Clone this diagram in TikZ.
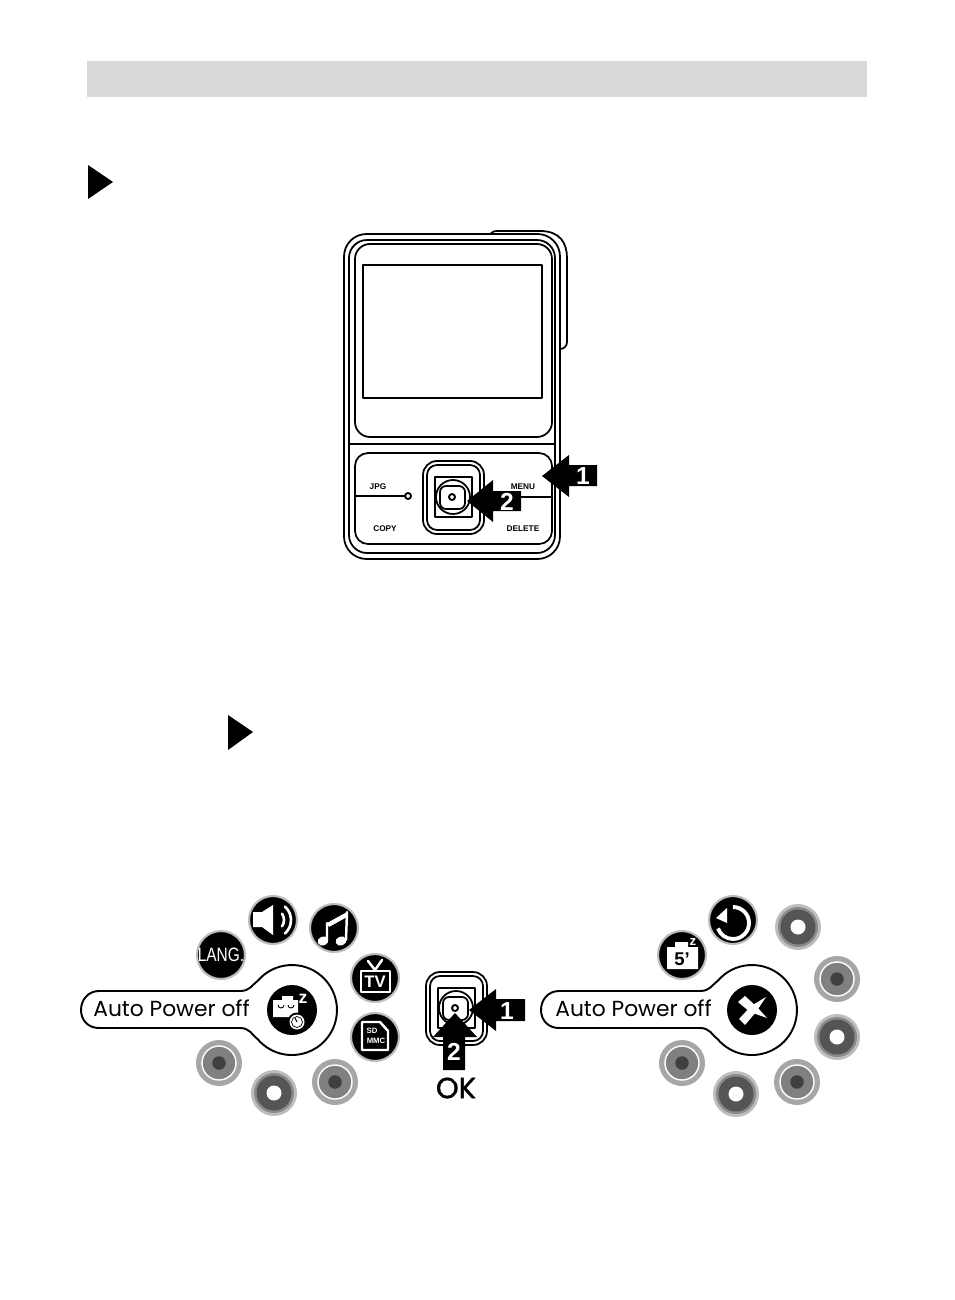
\documentclass[tikz,border=0pt]{standalone}
\usepackage{fontspec}
\setmainfont{Liberation Sans}
\newfontfamily\labelfont{Poppins}
\newfontfamily\okfont[FakeBold=1.3]{Poppins}
\definecolor{barcol}{HTML}{D9D9D9}
\definecolor{haloA}{HTML}{A6A6A6}
\definecolor{midA}{HTML}{808080}
\definecolor{darkA}{HTML}{404040}
\definecolor{haloB}{HTML}{BDBDBD}
\definecolor{edgeB}{HTML}{8A8A8A}
\definecolor{darkB}{HTML}{555555}
\tikzset{
	camline/.style={line width=1pt,line join=round,line cap=round},
	keyline/.style={line width=1.1pt,line join=round},
	iconbg/.style={circle,fill=black,draw=haloB,line width=1.2pt,minimum size=0.96cm,inner sep=0pt},
	whiteline/.style={white,line width=1.4pt,line cap=round,line join=round},
	btnlabel/.style={font=\fontsize{4.7}{5}\bfseries\selectfont,inner sep=0pt},
	arrownum/.style={white,font=\fontsize{14}{14}\bfseries\selectfont,inner sep=0pt},
	autolabel/.style={font=\labelfont\fontsize{12.4}{15}\selectfont,inner sep=0pt},
}
% grey radio rings
\newcommand{\ringoff}[3]{
	\node[circle,fill=haloA,minimum size=0.92cm,inner sep=0pt] (#1) at (#2,#3) {};
	\node[circle,fill=midA,draw=white,line width=0.8pt,minimum size=0.68cm,inner sep=0pt] at (#1) {};
	\node[circle,fill=darkA,minimum size=0.27cm,inner sep=0pt] at (#1) {};
}
\newcommand{\ringon}[3]{
	\node[circle,fill=haloB,minimum size=0.92cm,inner sep=0pt] (#1) at (#2,#3) {};
	\node[circle,fill=edgeB,minimum size=0.8cm,inner sep=0pt] at (#1) {};
	\node[circle,fill=darkB,minimum size=0.7cm,inner sep=0pt] at (#1) {};
	\node[circle,fill=white,minimum size=0.3cm,inner sep=0pt] at (#1) {};
}
\newcommand{\keyhole}[1]{
	\draw[keyline,shift={(#1,0)}] (99,-991) -- (240,-991) .. controls (250,-991) and (252,-985) .. (258,-980.5)
		arc[start angle=139,end angle=-139,radius=45]
		.. controls (252,-1035) and (250,-1028) .. (240,-1028) -- (99,-1028)
		.. controls (88,-1028) and (81,-1020) .. (81,-1010) .. controls (81,-1000) and (88,-991) .. (99,-991) -- cycle;
}
\newcommand{\dpad}[2]{
	\begin{scope}[shift={(#1,#2)},camline]
		\draw[rounded corners=0.28cm] (-30,-37) rectangle (31,36);
		\draw[rounded corners=0.2cm] (-26,-33) rectangle (27,32);
		\draw[line width=1.1pt] (-18,-20) rectangle (19,20);
		\draw (0,0) circle[radius=17];
		\draw[fill=white,rounded corners=0.12cm] (-13,-12) rectangle (12,11);
		\draw[line width=1.1pt] (-1,0) circle[radius=3];
	\end{scope}
}
\begin{document}
\begin{tikzpicture}[x=0.02cm,y=0.02cm]
	\useasboundingbox (0,0) rectangle (954,-1300);
	\fill[barcol] (87,-61) rectangle (867,-97);
	\fill (88,-165) -- (113,-182) -- (88,-199) -- cycle;
	\fill (228,-715) -- (253,-732) -- (228,-750) -- cycle;

	% camera
	\begin{scope}[camline]
		\draw (490,-234) .. controls (492,-231) and (495,-231) .. (500,-231) -- (540,-231)
			.. controls (560,-231) and (567,-243) .. (567,-258) -- (567,-342)
			.. controls (567,-346) and (564,-349) .. (560,-349);
		\draw[fill=white,rounded corners=0.45cm] (344,-234) rectangle (560,-559);
		\draw[rounded corners=0.36cm] (349,-240) rectangle (555,-553);
		\draw[rounded corners=0.3cm] (355,-244) rectangle (552,-437);
		\draw[line width=1.2pt] (363,-265) rectangle (542,-398);
		\draw (350,-444) -- (555,-444);
		\draw[rounded corners=0.26cm] (355,-453) rectangle (552,-544);
		\draw[line width=1.6pt] (356,-496) -- (405,-496);
		\draw[line width=1.1pt] (408,-496) circle[radius=3];
		\draw[line width=1.6pt] (518,-497) -- (552,-497);
	\end{scope}
	\node[btnlabel] (jpg) at (378,-487) {JPG};
	\node[btnlabel] (copy) at (385,-529) {COPY};
	\node[btnlabel] (menu) at (523,-487) {MENU};
	\node[btnlabel] (delete) at (523,-529) {DELETE};
	\dpad{453}{-497}
	\fill (542,-476) -- (569,-455) -- (569,-465) -- (597,-465) -- (597,-486) -- (569,-486) -- (569,-497) -- cycle;
	\node[arrownum] (numa) at (583,-476) {1};
	\fill (467,-501) -- (493,-480) -- (493,-491) -- (521,-491) -- (521,-511) -- (493,-511) -- (493,-522) -- cycle;
	\node[arrownum] (numb) at (507,-502) {2};

	% left menu
	\keyhole{0}
	\node[autolabel,anchor=base west] (autoa) at (93,-1016) {Auto Power off};
	\node[iconbg] (lang) at (221,-955) {};
	\node[white,font=\fontsize{11}{11}\selectfont,xscale=0.8,inner sep=0pt] (langtext) at (lang) {LANG.};
	\node[iconbg] (sound) at (273,-920) {};
	\fill[white] (253,-912) -- (262,-912) -- (273,-905) -- (273,-935) -- (262,-927) -- (253,-927) -- cycle;
	\draw[whiteline,line width=1.5pt] (273,-920) ++(35:11) arc[start angle=35,end angle=-35,radius=11];
	\draw[whiteline,line width=1.5pt] (273,-920) ++(48:18) arc[start angle=48,end angle=-48,radius=18];
	\node[iconbg] (music) at (334,-928) {};
	\fill[white,rotate around={20:(323,-941)}] (323,-941) ellipse[x radius=5.5,y radius=4.5];
	\fill[white,rotate around={20:(341,-941)}] (341,-941) ellipse[x radius=5.5,y radius=4.5];
	\draw[whiteline] (327,-940) -- (327,-923) (347,-912) -- (346,-940);
	\fill[white] (327,-923) -- (347,-912) -- (347,-917) -- (329,-927) -- cycle;
	\node[iconbg] (tv) at (375,-978) {};
	\draw[whiteline] (361,-971) rectangle (390,-992);
	\draw[whiteline] (368,-961) -- (375,-970) -- (382,-960);
	\node[white,font=\fontsize{9.5}{10}\bfseries\selectfont,inner sep=0pt] (tvtext) at (375,-981.5) {TV};
	\node[iconbg] (card) at (375,-1037) {};
	\draw[whiteline] (362,-1022) -- (380,-1022) -- (388,-1031) -- (388,-1050) -- (362,-1050) -- cycle;
	\node[white,font=\fontsize{4.4}{5}\bfseries\selectfont,inner sep=0pt] (sdtext) at (372,-1031) {SD};
	\node[white,font=\fontsize{4.4}{5}\bfseries\selectfont,inner sep=0pt] (mmctext) at (376,-1041) {MMC};
	\ringoff{ringa}{219}{-1063}
	\ringon{ringb}{274}{-1093}
	\ringoff{ringc}{335}{-1082}
	\node[circle,fill=black,minimum size=1cm,inner sep=0pt] (sleep) at (292,-1010) {};
	\fill[white] (273,-1000) -- (282,-1000) -- (282,-996) -- (293,-996) -- (293,-1000) -- (298,-1000) -- (298,-1017) -- (273,-1017) -- cycle;
	\draw[black,line width=0.5pt] (278,-1005) arc[start angle=180,end angle=360,radius=3];
	\draw[black,line width=0.5pt] (288,-1005) arc[start angle=180,end angle=360,radius=3];
	\fill[black] (297,-1022) circle[radius=9.5];
	\fill[white] (297,-1022) circle[radius=7.5];
	\draw[line width=0.4pt] (297,-1022) circle[radius=5.5];
	\draw[line width=0.6pt] (297,-1022) -- (295,-1018);
	\node[white,font=\fontsize{10}{10}\bfseries\selectfont,inner sep=0pt] (sleepz) at (303,-998.5) {z};

	% middle buttons
	\dpad{456}{-1008}
	\fill (469,-1010) -- (496,-989) -- (496,-999) -- (525,-999) -- (525,-1021) -- (496,-1021) -- (496,-1031) -- cycle;
	\node[arrownum] (numc) at (507,-1011) {1};
	\fill (455,-1013) -- (477,-1037) -- (465,-1037) -- (465,-1070) -- (443,-1070) -- (443,-1037) -- (433,-1037) -- cycle;
	\node[arrownum] (numd) at (454,-1052) {2};
	\node[font=\okfont\fontsize{16.5}{17}\selectfont,inner sep=0pt] (oktext) at (456,-1088) {OK};

	% right menu
	\keyhole{460}
	\node[autolabel,anchor=base west] (autob) at (555,-1016) {Auto Power off};
	\node[iconbg] (timer) at (682,-955) {};
	\fill[white] (667,-947) -- (675,-947) -- (675,-942) -- (688,-942) -- (688,-947) -- (698,-947) -- (698,-969) -- (667,-969) -- cycle;
	\node[white,font=\fontsize{7.5}{8}\bfseries\selectfont,inner sep=0pt] (timerz) at (693,-942) {z};
	\node[font=\fontsize{10.5}{11}\bfseries\selectfont,inner sep=0pt] (timertext) at (682,-959) {5'};
	\node[iconbg] (undo) at (733,-920) {};
	\draw[white,line width=2.2pt] (733,-923) ++(90:16) arc[start angle=90,end angle=-160,radius=16];
	\fill[white] (716,-918) -- (727,-908) -- (727,-923) -- cycle;
	\ringon{ringd}{798}{-927}
	\ringoff{ringe}{837}{-979}
	\ringon{ringf}{837}{-1037}
	\ringoff{ringg}{682}{-1063}
	\ringon{ringh}{736}{-1094}
	\ringoff{ringi}{797}{-1082}
	\node[circle,fill=black,minimum size=1cm,inner sep=0pt] (cross) at (752,-1010) {};
	\fill[white] (738,-1002) -- (745,-996) -- (757,-1007) -- (767,-1018) -- (750,-1012) -- cycle;
	\fill[white] (739,-1019) -- (745,-1025) -- (756,-1012) -- (766,-997) -- (751,-1006) -- cycle;
\end{tikzpicture}
\end{document}
